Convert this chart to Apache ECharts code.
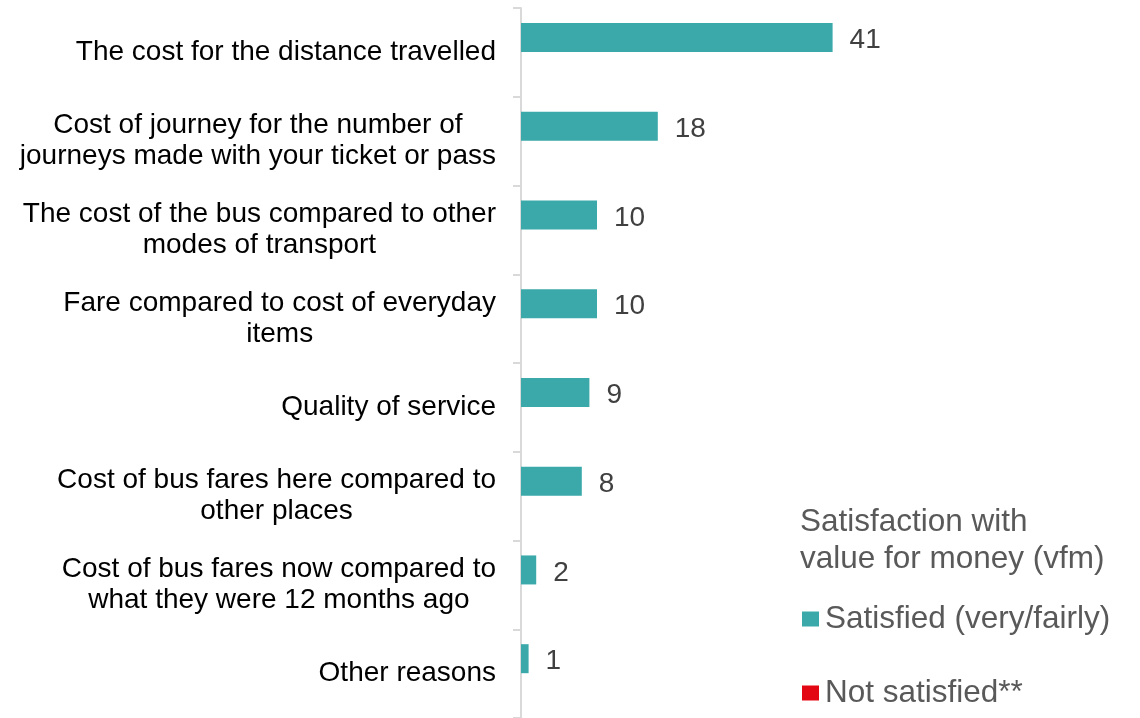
<!DOCTYPE html>
<html>
<head>
<meta charset="utf-8">
<script src="https://cdn.jsdelivr.net/npm/echarts@6/dist/echarts.min.js"></script>
<style>
  html, body { margin: 0; padding: 0; background: #ffffff; }
  #chart { width: 1140px; height: 718px; }
</style>
</head>
<body>
<div id="chart"></div>
<script>
// Reasons given, top to bottom
const categories = [
  'The cost for the distance travelled',
  'Cost of journey for the number of\njourneys made with your ticket or pass',
  'The cost of the bus compared to other\nmodes of transport',
  'Fare compared to cost of everyday\nitems',
  'Quality of service',
  'Cost of bus fares here compared to\nother places',
  'Cost of bus fares now compared to\nwhat they were 12 months ago',
  'Other reasons'
];

// Satisfied (very/fairly), %
const satisfiedValues = [41, 18, 10, 10, 9, 8, 2, 1];
// Not satisfied**, no values shown
const notSatisfiedValues = [null, null, null, null, null, null, null, null];

const legendTitle = 'Satisfaction with\nvalue for money (vfm)';
const seriesNames = ['Satisfied (very/fairly)', 'Not satisfied**'];

const FONT = '"Liberation Sans", Arial, sans-serif';
const chart = echarts.init(document.getElementById('chart'), null, { renderer: 'canvas' });

chart.setOption({
  animation: false,
  backgroundColor: '#ffffff',
  textStyle: { fontFamily: FONT },
  title: {
    text: legendTitle,
    left: 795,
    top: 499,
    textStyle: {
      fontFamily: FONT,
      fontSize: 31.5,
      fontWeight: 'normal',
      color: '#595959',
      lineHeight: 37
    }
  },
  legend: {
    orient: 'vertical',
    left: 797,
    top: 598,
    itemWidth: 17,
    itemHeight: 15,
    itemGap: 42,
    icon: 'rect',
    data: seriesNames,
    textStyle: { fontFamily: FONT, fontSize: 31.5, color: '#595959', padding: [0, 0, 0, 1] }
  },
  grid: { left: 521, right: 11, top: 8, bottom: -2, containLabel: false },
  xAxis: {
    type: 'value',
    min: 0,
    max: 80,
    show: false
  },
  yAxis: {
    type: 'category',
    inverse: true,
    data: categories,
    axisLine: { show: true, lineStyle: { color: '#d9d9d9', width: 2 } },
    axisTick: { show: true, length: 8, lineStyle: { color: '#d9d9d9', width: 2 } },
    axisLabel: {
      margin: 25,
      fontFamily: FONT,
      fontSize: 28,
      lineHeight: 31,
      color: '#000000',
      align: 'right',
      // wrapped lines are centred within their right-aligned block
      formatter: (v) => v.split('\n').map((line) => '{c|' + line + '}').join('\n'),
      rich: {
        c: {
          align: 'center',
          fontFamily: FONT,
          fontSize: 28,
          lineHeight: 31,
          color: '#000000'
        }
      }
    }
  },
  series: [
    {
      name: seriesNames[0],
      type: 'bar',
      data: satisfiedValues,
      barWidth: 29,
      barGap: '3%',
      itemStyle: { color: '#3ba9a9' },
      label: {
        show: true,
        position: 'right',
        distance: 17,
        offset: [0, 3],
        fontFamily: FONT,
        fontSize: 28,
        color: '#404040'
      }
    },
    {
      name: seriesNames[1],
      type: 'bar',
      data: notSatisfiedValues,
      barWidth: 29,
      barGap: '3%',
      itemStyle: { color: '#e30613' },
      label: { show: false }
    }
  ]
});
</script>
</body>
</html>
